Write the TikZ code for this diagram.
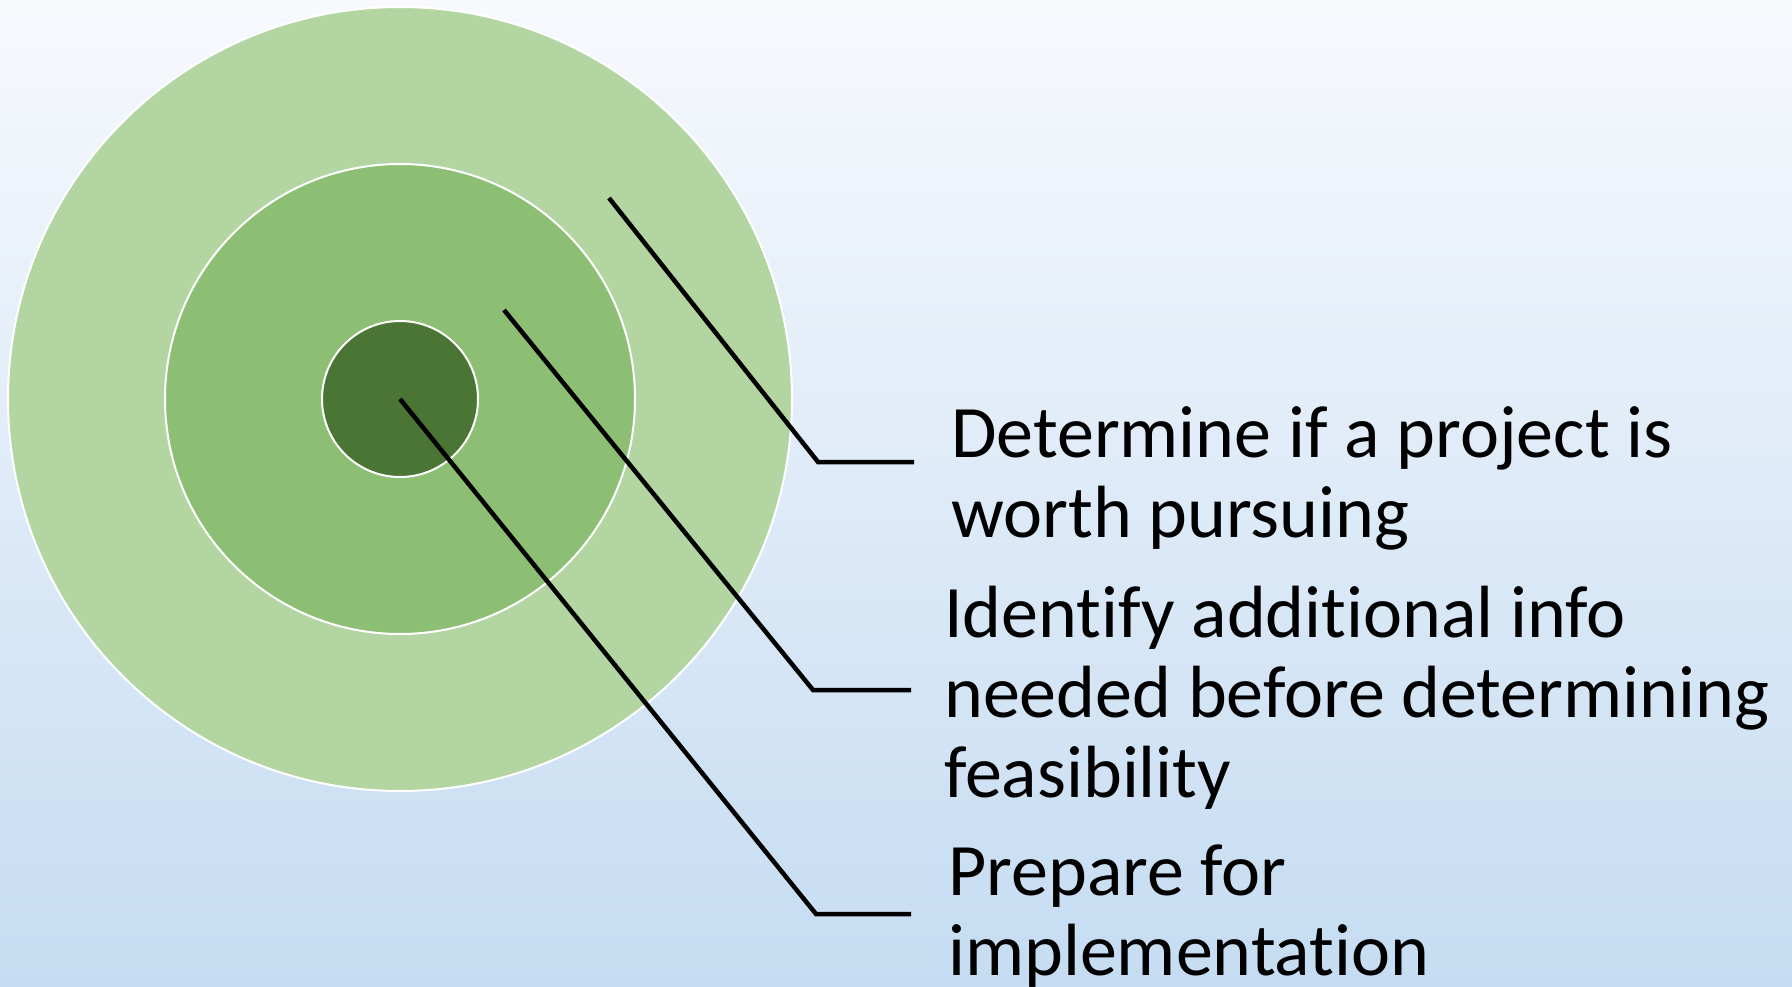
\documentclass[tikz,border=0pt]{standalone}
\usepackage{fontspec}
\setmainfont{Carlito}[Ligatures=NoCommon]
\begin{document}
\begin{tikzpicture}[x=1pt,y=-1pt,
  ring/.style={circle,draw=white,line width=2pt,inner sep=0pt,minimum size=#1},
  leader/.style={line width=4.5pt,black,line cap=butt,line join=miter},
  label/.style={anchor=base west,align=left,inner sep=0pt,
    font=\fontsize{74}{80}\selectfont}]
  \definecolor{bgtop}{HTML}{F7F9FD}
  \definecolor{bgbot}{HTML}{C5DCF2}
  \definecolor{ringout}{HTML}{B3D5A2}
  \definecolor{ringmid}{HTML}{8CBF73}
  \definecolor{ringin}{HTML}{4A7535}
  % page background
  \shade[top color=bgtop,bottom color=bgbot] (0,0) rectangle (1792,987);
  \useasboundingbox (0,0) rectangle (1792,987);
  % target rings
  \node[ring=784pt,fill=ringout] (outer) at (400,399) {};
  \node[ring=470pt,fill=ringmid] (middle) at (400,399) {};
  \node[ring=156pt,fill=ringin] (inner) at (400,399) {};
  % leader anchor points
  \coordinate (s1) at (609,198);
  \coordinate (b1) at (818,462);
  \coordinate (e1) at (914,462);
  \coordinate (s2) at (504,310);
  \coordinate (b2) at (813,690);
  \coordinate (e2) at (911,690);
  \coordinate (b3) at (816,914);
  \coordinate (e3) at (911,914);
  % leaders
  \draw[leader] (s1) -- (b1) -- (e1);
  \draw[leader] (s2) -- (b2) -- (e2);
  \draw[leader] (inner.center) -- (b3) -- (e3);
  % labels (anchored on the baseline of their last line)
  \node[label] (t1) at (951,537) {Determine if a project is\\worth pursuing};
  \node[label] (t2) at (944,797) {Identify additional info\\needed before determining\\feasibility};
  \node[label] (t3) at (948,975) {Prepare for\\implementation};
\end{tikzpicture}
\end{document}
